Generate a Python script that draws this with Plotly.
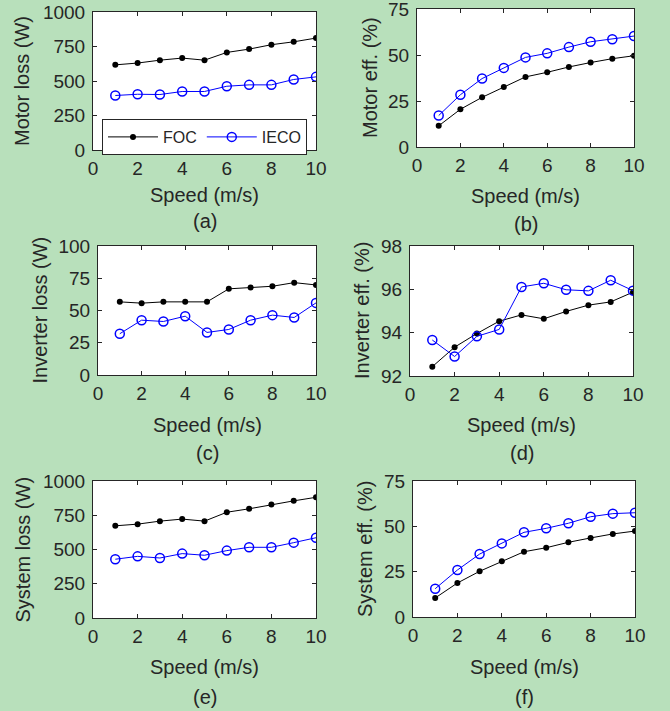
import plotly.graph_objects as go

speed = [1, 2, 3, 4, 5, 6, 7, 8, 9, 10]

motor_loss_foc = [617, 630, 651, 666, 651, 707, 731, 763, 784, 811]
motor_loss_ieco = [395, 404, 402, 424, 424, 462, 472, 472, 511, 530]

motor_eff_foc = [11.5, 20.5, 27.0, 32.6, 38.1, 40.6, 43.5, 45.9, 48.0, 49.6]
motor_eff_ieco = [17.1, 28.4, 37.2, 43.0, 48.7, 50.9, 54.3, 57.2, 58.6, 60.3]

inv_loss_foc = [56.7, 55.7, 56.7, 56.7, 56.7, 66.8, 67.8, 68.8, 71.6, 69.8]
inv_loss_ieco = [32.0, 42.5, 41.5, 45.6, 33.0, 35.3, 42.5, 46.4, 44.6, 55.9]

inv_eff_foc = [92.43, 93.33, 93.96, 94.53, 94.82, 94.64, 94.98, 95.27, 95.42, 95.87]
inv_eff_ieco = [93.66, 92.90, 93.83, 94.15, 96.11, 96.28, 95.98, 95.93, 96.42, 95.94]

sys_loss_foc = [673, 685, 707, 722, 707, 772, 797, 828, 855, 881]
sys_loss_ieco = [429, 450, 438, 470, 458, 492, 516, 516, 550, 586]

sys_eff_foc = [10.5, 18.75, 25.2, 30.7, 36.0, 38.2, 41.2, 43.6, 45.8, 47.4]
sys_eff_ieco = [15.6, 25.9, 34.7, 40.6, 46.7, 48.9, 51.7, 55.3, 57.0, 57.5]

x_ticks = [0, 2, 4, 6, 8, 10]
loss_ticks = [0, 250, 500, 750, 1000]
eff_ticks = [0, 25, 50, 75]
inv_loss_ticks = [0, 25, 50, 75, 100]
inv_eff_ticks = [92, 94, 96, 98]

W, H = 670, 711
BG = "#b8e0bb"
TXT = "#262626"
FONT = "Liberation Sans, Arial, sans-serif"

# panel boxes in pixels: (left, top, right, bottom)
panels = [
    dict(box=(93, 12, 316, 150), foc=motor_loss_foc, ieco=motor_loss_ieco, yr=[0, 1000], yt=loss_ticks,
         ytitle="Motor loss (W)", ytx=22, label="(a)", xty=195, lby=221),
    dict(box=(417, 9, 634, 147), foc=motor_eff_foc, ieco=motor_eff_ieco, yr=[0, 75], yt=eff_ticks,
         ytitle="Motor eff. (%)", ytx=370, label="(b)", xty=196, lby=224),
    dict(box=(98, 246, 316, 375), foc=inv_loss_foc, ieco=inv_loss_ieco, yr=[0, 100], yt=inv_loss_ticks,
         ytitle="Inverter loss (W)", ytx=39, label="(c)", xty=425, lby=453),
    dict(box=(410, 246, 633, 376), foc=inv_eff_foc, ieco=inv_eff_ieco, yr=[92, 98], yt=inv_eff_ticks,
         ytitle="Inverter eff. (%)", ytx=362, label="(d)", xty=425, lby=453),
    dict(box=(93, 481, 316, 618), foc=sys_loss_foc, ieco=sys_loss_ieco, yr=[0, 1000], yt=loss_ticks,
         ytitle="System loss (W)", ytx=22, label="(e)", xty=667, lby=697),
    dict(box=(413, 481, 635, 617), foc=sys_eff_foc, ieco=sys_eff_ieco, yr=[0, 75], yt=eff_ticks,
         ytitle="System eff. (%)", ytx=365, label="(f)", xty=667, lby=697),
]

fig = go.Figure()
layout = dict(
    width=W, height=H, autosize=False, margin=dict(l=0, r=0, t=0, b=0, pad=0, autoexpand=False),
    paper_bgcolor=BG, plot_bgcolor="white",
    font=dict(family=FONT, color=TXT, size=17),
    showlegend=True,
)
annotations = []

for i, p in enumerate(panels):
    n = "" if i == 0 else str(i + 1)
    l, t, r, b = p["box"]
    xd = [l / W, r / W]
    yd = [1 - b / H, 1 - t / H]
    axis_common = dict(
        showline=True, linecolor=TXT, linewidth=1, mirror="ticks",
        ticks="inside", ticklen=4, tickcolor=TXT, showgrid=False, zeroline=False,
        tickfont=dict(family=FONT, size=19, color=TXT), automargin=False,
        ticklabeloverflow="allow",
    )
    layout["xaxis" + n] = dict(domain=xd, range=[0, 10], tickvals=x_ticks,
                               anchor="y" + n, ticklabelstandoff=1, **axis_common)
    layout["yaxis" + n] = dict(domain=yd, range=p["yr"], tickvals=p["yt"],
                               anchor="x" + n, ticklabelstandoff=3, **axis_common)
    fig.add_trace(go.Scatter(
        x=speed, y=p["foc"], mode="lines+markers", name="FOC",
        line=dict(color="black", width=1), marker=dict(symbol="circle", size=6, color="black"),
        xaxis="x" + n, yaxis="y" + n, showlegend=(i == 0),
    ))
    fig.add_trace(go.Scatter(
        x=speed, y=p["ieco"], mode="lines+markers", name="IECO",
        line=dict(color="#0000ff", width=1),
        marker=dict(symbol="circle-open", size=9, color="#0000ff", line=dict(width=1.5)),
        xaxis="x" + n, yaxis="y" + n, showlegend=(i == 0),
    ))
    cx = (l + r) / 2 / W
    annotations.append(dict(text="Speed (m/s)", x=cx, y=1 - p["xty"] / H, xref="paper", yref="paper",
                            showarrow=False, font=dict(size=20, color=TXT, family=FONT),
                            xanchor="center", yanchor="middle"))
    annotations.append(dict(text=p["label"], x=cx, y=1 - p["lby"] / H, xref="paper", yref="paper",
                            showarrow=False, font=dict(size=20, color=TXT, family=FONT),
                            xanchor="center", yanchor="middle"))
    annotations.append(dict(text=p["ytitle"], x=p["ytx"] / W, y=1 - (t + b) / 2 / H, xref="paper", yref="paper",
                            showarrow=False, textangle=-90, font=dict(size=20, color=TXT, family=FONT),
                            xanchor="center", yanchor="middle"))

layout["annotations"] = annotations
layout["legend"] = dict(
    orientation="h", x=102 / W, y=1 - 119 / H, xanchor="left", yanchor="top",
    bgcolor="white", bordercolor=TXT, borderwidth=1,
    font=dict(size=16, color=TXT, family=FONT), itemwidth=50,
)
fig.update_layout(**layout)
fig.write_html("out.html", config={"responsive": False, "displayModeBar": False})

with open("out.html", "r", encoding="utf-8") as f:
    html = f.read()
html = html.replace("<head>", "<head><style>html,body{margin:0;padding:0;overflow:hidden;}</style>", 1)
with open("out.html", "w", encoding="utf-8") as f:
    f.write(html)
